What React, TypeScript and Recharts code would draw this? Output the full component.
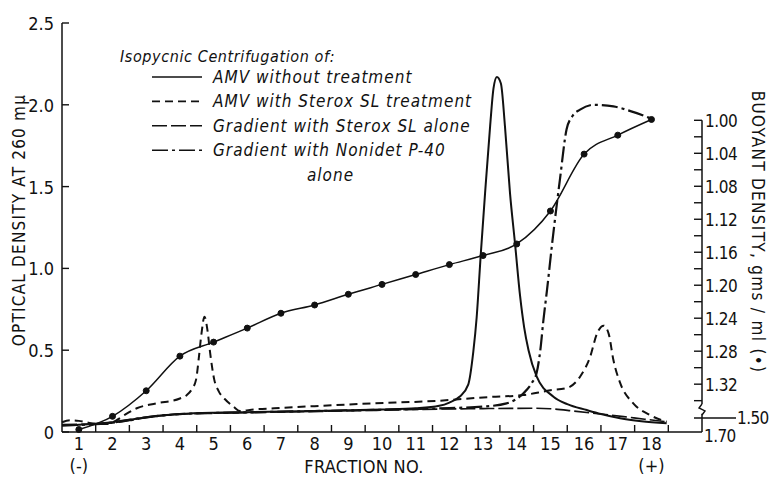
import React from "react";
import { LineChart, Line, XAxis, YAxis, Legend, ReferenceLine } from "recharts";

const FONT = "'Liberation Sans Narrow', 'DejaVu Sans Condensed', 'Liberation Sans', sans-serif";

// optical density at 260 mμ against fraction number
const amvFrac = [0.5, 1, 1.5, 2, 2.5, 3, 3.5, 4, 5, 6, 7, 8, 9, 10, 11, 11.7, 12.0, 12.3, 12.56, 12.71, 12.81, 12.93, 13.06, 13.21, 13.31, 13.41, 13.53, 13.65, 13.8, 13.95, 14.1, 14.22, 14.35, 14.59, 15.09, 15.5, 16.08, 16.5, 17.07, 17.7, 18.45];
const amvOD = [0.04, 0.044, 0.05, 0.06, 0.075, 0.09, 0.102, 0.11, 0.118, 0.121, 0.125, 0.129, 0.133, 0.138, 0.145, 0.16, 0.18, 0.215, 0.29, 0.49, 0.7, 1.08, 1.46, 1.87, 2.1, 2.17, 2.13, 1.87, 1.46, 1.15, 0.83, 0.64, 0.5, 0.34, 0.216, 0.17, 0.134, 0.11, 0.084, 0.066, 0.053];

const steroxFrac = [0.5, 0.75, 1.0, 1.25, 1.5, 1.85, 2.1, 2.42, 2.72, 3.3, 4.0, 4.2, 4.35, 4.48, 4.56, 4.64, 4.73, 4.82, 4.9, 5.02, 5.15, 5.34, 5.59, 5.78, 6.2, 6.8, 8.0, 9.7, 11.6, 13.2, 14.2, 15.0, 15.48, 15.88, 16.18, 16.38, 16.58, 16.73, 16.87, 17.07, 17.46, 17.95, 18.45];
const steroxOD = [0.06, 0.072, 0.068, 0.058, 0.05, 0.049, 0.07, 0.112, 0.145, 0.175, 0.205, 0.225, 0.26, 0.32, 0.45, 0.6, 0.705, 0.62, 0.48, 0.32, 0.25, 0.2, 0.155, 0.128, 0.138, 0.145, 0.158, 0.175, 0.19, 0.214, 0.226, 0.255, 0.268, 0.338, 0.46, 0.6, 0.65, 0.6, 0.44, 0.3, 0.175, 0.104, 0.063];

const gradSteroxFrac = [0.5, 1, 1.5, 2, 2.5, 3, 3.5, 4, 5, 6, 8, 10, 11.7, 13, 14.5, 15.0, 15.7, 16.5, 17.17, 17.8, 18.45];
const gradSteroxOD = [0.045, 0.047, 0.05, 0.056, 0.07, 0.087, 0.1, 0.108, 0.115, 0.118, 0.125, 0.133, 0.14, 0.143, 0.145, 0.142, 0.128, 0.11, 0.094, 0.078, 0.063];

const nonidetFrac = [0.5, 1, 1.5, 2, 2.5, 3, 3.5, 4, 5, 6, 8, 10, 12, 13.0, 13.7, 14.2, 14.45, 14.59, 14.7, 14.79, 14.9, 15.05, 15.28, 15.48, 15.65, 15.88, 16.28, 16.87, 17.4, 17.94];
const nonidetOD = [0.04, 0.043, 0.048, 0.058, 0.074, 0.09, 0.102, 0.11, 0.116, 0.12, 0.128, 0.136, 0.146, 0.155, 0.175, 0.237, 0.3, 0.36, 0.5, 0.68, 0.87, 1.15, 1.54, 1.85, 1.93, 1.97, 2.0, 1.99, 1.96, 1.92];

// buoyant density (gms/ml) of each fraction, the dotted curve on the right axis
const densityFrac = [1, 2, 3, 4, 5, 6, 7, 8, 9, 10, 11, 12, 13, 14, 15, 16, 17, 18];
const density = [1.375, 1.359, 1.328, 1.286, 1.269, 1.252, 1.234, 1.224, 1.211, 1.199, 1.187, 1.175, 1.164, 1.15, 1.11, 1.041, 1.018, 0.999];

// axes
const fractionLabels = [1, 2, 3, 4, 5, 6, 7, 8, 9, 10, 11, 12, 13, 14, 15, 16, 17, 18];
const fractionTickMarks = [1.5, 2.5, 3.5, 4.5, 5.5, 6.5, 7.5, 8.5, 9.5, 10.5, 11.5, 12.5, 13.5, 14.5, 15.5, 16.5, 17.5, 18.5];
const odTicks = [0, 0.5, 1, 1.5, 2, 2.5];
const densityTicks = [1.0, 1.02, 1.04, 1.06, 1.08, 1.1, 1.12, 1.14, 1.16, 1.18, 1.2, 1.22, 1.24, 1.26, 1.28, 1.3, 1.32, 1.34];
const densityLabels = ["1.00", "1.04", "1.08", "1.12", "1.16", "1.20", "1.24", "1.28", "1.32"];
// below the axis break the scale jumps: 1.50 then 1.70 at the baseline
const brokenTicks = [1.361, 1.378];
const brokenLabels = ["1.50", "1.70"];

const toPoints = (fr: number[], vals: number[]) => fr.map((f, i) => ({ f, v: vals[i] }));

const series = [
  { name: "AMV without treatment", data: toPoints(amvFrac, amvOD), dash: undefined, width: 2 },
  { name: "AMV with Sterox SL treatment", data: toPoints(steroxFrac, steroxOD), dash: "8 5", width: 2 },
  { name: "Gradient with Sterox SL alone", data: toPoints(gradSteroxFrac, gradSteroxOD), dash: "15 4", width: 1.6 },
  { name: "Gradient with Nonidet P-40", data: toPoints(nonidetFrac, nonidetOD), dash: "16 4 3 4", width: 2.2 },
];

const densityData = toPoints(densityFrac, density);

const textStyle = { fontFamily: FONT, fill: "#111" };

const FractionTick = (props: any) => {
  const { x, y, payload } = props;
  const v = payload.value;
  if (Number.isInteger(v)) {
    return (
      <g>
        <text x={x} y={y + 18} textAnchor="middle" fontSize={18} {...textStyle}>{v}</text>
        {v === 1 && <text x={x} y={y + 40} textAnchor="middle" fontSize={18} {...textStyle}>(-)</text>}
        {v === 18 && <text x={x} y={y + 40} textAnchor="middle" fontSize={18} {...textStyle}>(+)</text>}
      </g>
    );
  }
  return <line x1={x} x2={x} y1={y} y2={y - 7} stroke="#111" strokeWidth={1.4} />;
};

const OdTick = (props: any) => {
  const { x, y, payload } = props;
  const v = payload.value;
  return (
    <g>
      <line x1={x} x2={x + 7} y1={y} y2={y} stroke="#111" strokeWidth={1.4} />
      <text x={x - 8} y={y + 7} textAnchor="end" fontSize={18} {...textStyle}>
        {v === 0 ? "0" : v.toFixed(1)}
      </text>
    </g>
  );
};

const DensityTick = (props: any) => {
  const { x, y, payload } = props;
  const v = payload.value;
  const b = brokenTicks.indexOf(v);
  if (b === 0) {
    return (
      <g>
        <line x1={x - 8} x2={x + 34} y1={y} y2={y} stroke="#111" strokeWidth={1.4} />
        <path d={`M${x} ${y - 14} L${x - 3} ${y - 10} L${x + 3} ${y - 7} L${x} ${y - 3}`} fill="none" stroke="#111" strokeWidth={1.4} />
        <text x={x + 35} y={y + 6} fontSize={17} letterSpacing={-0.6} {...textStyle}>{brokenLabels[0]}</text>
      </g>
    );
  }
  if (b === 1) {
    return <text x={x + 2} y={y + 10} fontSize={17} letterSpacing={-0.6} {...textStyle}>{brokenLabels[1]}</text>;
  }
  const hundredths = Math.round(v * 100);
  const label = hundredths % 4 === 0 ? densityLabels[(hundredths - 100) / 4] : null;
  return (
    <g>
      <line x1={x - 8} x2={x} y1={y} y2={y} stroke="#111" strokeWidth={1.4} />
      {label && <text x={x + 3} y={y + 7} fontSize={17} letterSpacing={-0.4} {...textStyle}>{label}</text>}
    </g>
  );
};

const OdTitle = () => (
  <text x={19} y={220} transform="rotate(-90 19 220)" textAnchor="middle" dominantBaseline="central" fontSize={17} letterSpacing={1.2} {...textStyle}>
    OPTICAL DENSITY AT 260 mμ
  </text>
);

const DensityTitle = () => (
  <text x={758} y={232} transform="rotate(90 758 232)" textAnchor="middle" dominantBaseline="central" fontSize={17} letterSpacing={1.3} {...textStyle}>
    BUOYANT DENSITY, gms / ml (•)
  </text>
);

const FractionTitle = () => (
  <text x={364} y={473} textAnchor="middle" fontSize={18} letterSpacing={0.3} {...textStyle}>
    FRACTION NO.
  </text>
);

const LegendBox = () => (
  <svg width={420} height={150} style={{ overflow: "visible", display: "block" }}>
    <text x={5} y={22} fontSize={16} fontStyle="italic" letterSpacing={0.6} {...textStyle}>
      Isopycnic Centrifugation of:
    </text>
    {series.map((s, i) => {
      const cy = 37 + i * 24.4;
      return (
        <g key={s.name}>
          <line x1={37} x2={87} y1={cy} y2={cy} stroke="#111" strokeWidth={1.6} strokeDasharray={s.dash} />
          <text x={98} y={cy + 6} fontSize={17} fontStyle="italic" letterSpacing={1.0} {...textStyle}>{s.name}</text>
        </g>
      );
    })}
    <text x={192} y={141} fontSize={17} fontStyle="italic" letterSpacing={1.0} {...textStyle}>alone</text>
  </svg>
);

export default function App() {
  return (
    <div style={{ position: "absolute", left: 0, top: 0, background: "#fff" }}>
      <LineChart width={773} height={478} margin={{ top: 23, right: 0, bottom: 0, left: 0 }}>
        <XAxis
          type="number"
          dataKey="f"
          domain={[0.5, 19.5]}
          ticks={[...fractionLabels, ...fractionTickMarks].sort((a, b) => a - b)}
          interval={0}
          height={46}
          tickSize={0}
          tickMargin={0}
          tickLine={false}
          tick={<FractionTick />}
          axisLine={{ stroke: "#111", strokeWidth: 1.5 }}
          label={<FractionTitle />}
          allowDuplicatedCategory={false}
        />
        <YAxis
          yAxisId="od"
          type="number"
          domain={[0, 2.5]}
          ticks={odTicks}
          interval={0}
          width={62}
          tickSize={0}
          tickMargin={0}
          tickLine={false}
          tick={<OdTick />}
          axisLine={{ stroke: "#111", strokeWidth: 1.5 }}
          label={<OdTitle />}
        />
        <YAxis
          yAxisId="density"
          orientation="right"
          type="number"
          domain={[0.882, 1.378]}
          reversed
          ticks={[...densityTicks, ...brokenTicks]}
          interval={0}
          width={71}
          tickSize={0}
          tickMargin={0}
          tickLine={false}
          tick={<DensityTick />}
          axisLine={false}
          label={<DensityTitle />}
        />
        <ReferenceLine yAxisId="density" segment={[{ x: 19.5, y: 1.0 }, { x: 19.5, y: 1.344 }]} stroke="#111" strokeWidth={1.5} />
        <ReferenceLine yAxisId="density" segment={[{ x: 19.5, y: 1.356 }, { x: 19.5, y: 1.378 }]} stroke="#111" strokeWidth={1.5} />
        <Legend
          layout="vertical"
          align="center"
          verticalAlign="middle"
          content={<LegendBox />}
          wrapperStyle={{ position: "absolute", left: 115, top: 40, width: 420 }}
        />
        {series.map((s) => (
          <Line
            key={s.name}
            yAxisId="od"
            data={s.data}
            dataKey="v"
            name={s.name}
            type="monotone"
            stroke="#111"
            strokeWidth={s.width}
            strokeDasharray={s.dash}
            dot={false}
            activeDot={false}
            isAnimationActive={false}
          />
        ))}
        <Line
          yAxisId="density"
          data={densityData}
          dataKey="v"
          name="Buoyant density"
          type="monotone"
          stroke="#111"
          strokeWidth={1.5}
          dot={{ r: 3, fill: "#111", stroke: "#111", strokeWidth: 1 }}
          activeDot={false}
          legendType="none"
          isAnimationActive={false}
        />
      </LineChart>
    </div>
  );
}
